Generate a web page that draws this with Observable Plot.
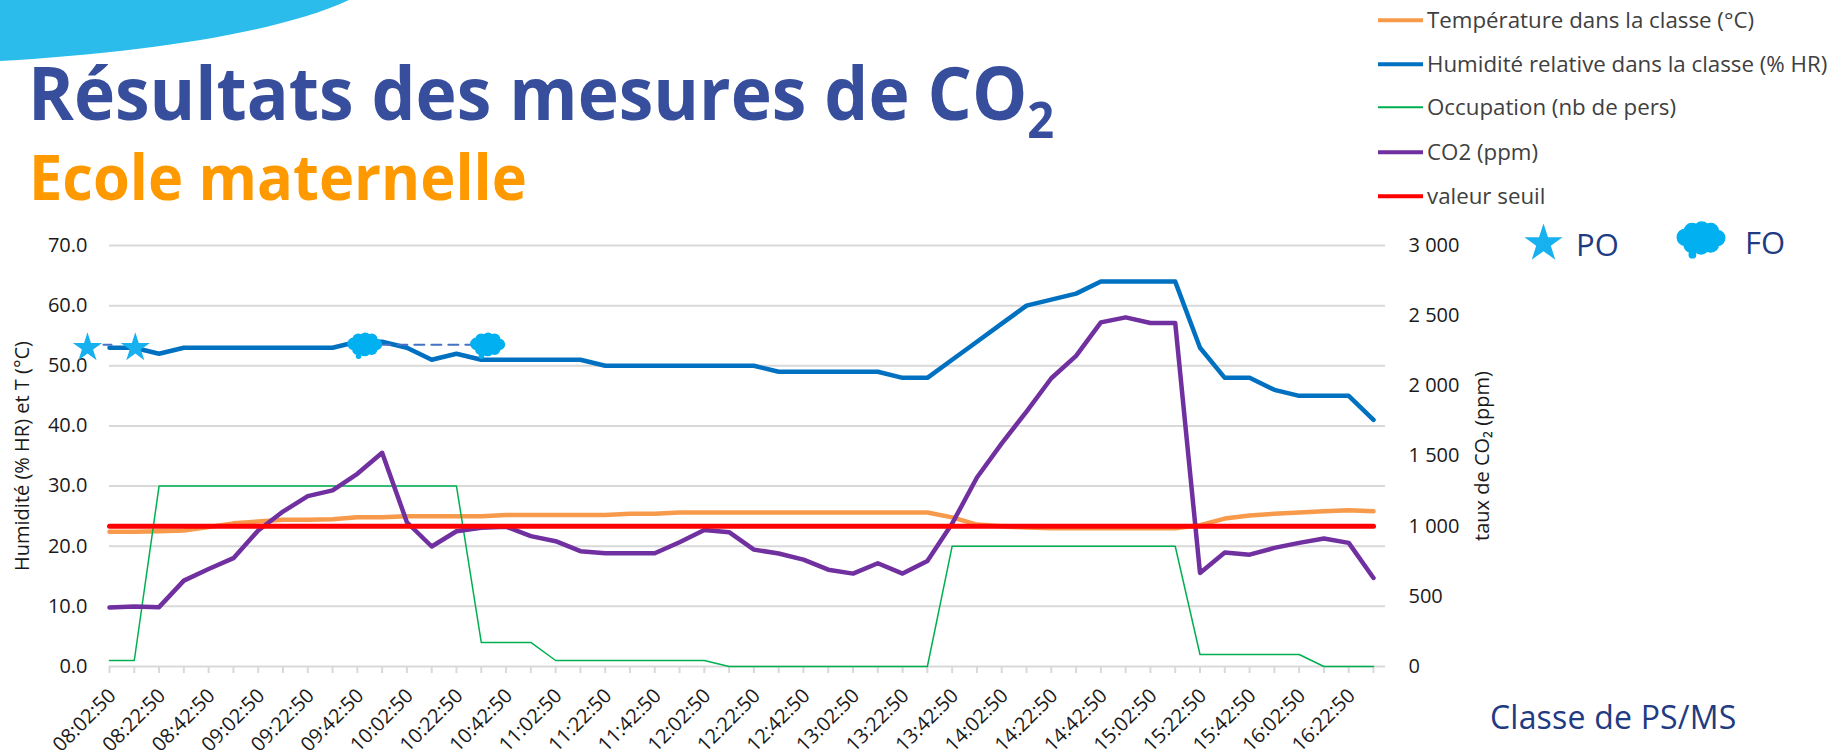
<!DOCTYPE html>
<html lang="fr">
<head>
<meta charset="utf-8">
<script src="https://cdn.jsdelivr.net/npm/d3@7"></script>
<script src="https://cdn.jsdelivr.net/npm/@observablehq/plot@0.6"></script>
<style>
html,body{margin:0;padding:0;background:#fff;overflow:hidden}
#page{position:relative;width:1833px;height:756px;overflow:hidden;font-family:"Open Sans",sans-serif}
#page svg.plot{position:absolute;left:0;top:0;background:transparent}
.abs{position:absolute;white-space:nowrap;line-height:1}
#title{left:28px;top:55px;font-size:74px;font-weight:700;color:#374E9C;transform:scaleX(.94);transform-origin:left top}
#title sub{font-size:50px;vertical-align:baseline;position:relative;top:18px;line-height:0}
#subtitle{left:29px;top:144px;font-size:63px;font-weight:700;color:#FF9900;transform:scaleX(.945);transform-origin:left top}
.leg{left:1427px;font-size:22.3px;color:#404040;transform:translateY(-50%)}
.key{position:absolute;left:1378px;width:45px;transform:translateY(-50%)}
.note{color:#1F3B82}
g[aria-label="symbols"]{filter:drop-shadow(1px 3px 2px rgba(70,80,100,.55))}
</style>
</head>
<body>
<div id="page">
  <svg style="position:absolute;left:0;top:0" width="360" height="70"><path d="M0 0H349C280 32 150 52 0 61Z" fill="#2BBCEB"/></svg>
  <div id="title" class="abs">Résultats des mesures de CO<sub>2</sub></div>
  <div id="subtitle" class="abs">Ecole maternelle</div>
  <div id="legend"></div>
  <div class="abs note" style="left:1576px;top:229px;font-size:31px">PO</div>
  <div class="abs note" style="left:1745px;top:227px;font-size:31px">FO</div>
  <div class="abs note" style="left:1490px;top:701px;font-size:32px;letter-spacing:.2px">Classe de PS/MS</div>
</div>
<script>
const times = ["08:02:50","08:12:50","08:22:50","08:32:50","08:42:50","08:52:50","09:02:50","09:12:50","09:22:50","09:32:50","09:42:50","09:52:50","10:02:50","10:12:50","10:22:50","10:32:50","10:42:50","10:52:50","11:02:50","11:12:50","11:22:50","11:32:50","11:42:50","11:52:50","12:02:50","12:12:50","12:22:50","12:32:50","12:42:50","12:52:50","13:02:50","13:12:50","13:22:50","13:32:50","13:42:50","13:52:50","14:02:50","14:12:50","14:22:50","14:32:50","14:42:50","14:52:50","15:02:50","15:12:50","15:22:50","15:32:50","15:42:50","15:52:50","16:02:50","16:12:50","16:22:50","16:32:50"];
const humidity = [53,53,52,53,53,53,53,53,53,53,54,54,53,51,52,51,51,51,51,51,50,50,50,50,50,50,50,49,49,49,49,49,48,48,51,54,57,60,61,62,64,64,64,64,53,48,48,46,45,45,45,41];
const temperature = [22.4,22.4,22.5,22.6,23.2,23.8,24.1,24.4,24.4,24.5,24.8,24.8,25,25,25,25,25.2,25.2,25.2,25.2,25.2,25.4,25.4,25.6,25.6,25.6,25.6,25.6,25.6,25.6,25.6,25.6,25.6,25.6,24.8,23.6,23.3,23.1,23,23,23,23,23,23,23.5,24.6,25.1,25.4,25.6,25.8,26,25.8];
const occupation = [1,1,30,30,30,30,30,30,30,30,30,30,30,30,30,4,4,4,1,1,1,1,1,1,1,0,0,0,0,0,0,0,0,0,20,20,20,20,20,20,20,20,20,20,2,2,2,2,2,0,0,0];
const co2 = [420,428,423,612,695,772,969,1104,1214,1255,1373,1523,1028,855,964,988,996,929,893,822,807,807,807,885,972,957,833,805,762,690,662,736,662,752,1019,1347,1590,1817,2054,2214,2452,2488,2448,2448,667,812,797,845,881,912,881,631];
const threshold = [1000];
const leftTicks = [0,10,20,30,40,50,60,70];
const ppmTicks = [0,500,1000,1500,2000,2500,3000];
const ppmToLeft = p => p * 70 / 3000;
const fmtPpm = p => d3.format(",")(p).replace(",", " ");

const series = [
  {label:"Température dans la classe (°C)", color:"#F79A4B", width:4.5, values:temperature},
  {label:"Humidité relative dans la classe (% HR)", color:"#0070C0", width:4.5, values:humidity},
  {label:"Occupation (nb de pers)", color:"#00B050", width:1.5, values:occupation},
  {label:"CO2 (ppm)", color:"#7030A0", width:4.5, values:co2.map(ppmToLeft)},
  {label:"valeur seuil", color:"#FF0000", width:5, values:times.map(() => ppmToLeft(threshold[0]))}
];
const legendY = [20,64,107,152,196];

const cloud = {draw(ctx, size){
  const r = Math.sqrt(size / Math.PI);
  const blobs = [[-.62,-.05,.36],[-.35,-.3,.34],[.05,-.36,.34],[.42,-.3,.34],[.68,-.02,.34],[.42,.24,.34],[.02,.3,.36],[-.36,.26,.34],[0,0,.55],[-.33,.66,.16]];
  for (const [x,y,s] of blobs) {
    ctx.moveTo(r*x + r*s, r*y);
    ctx.arc(r*x, r*y, r*s, 0, 2*Math.PI);
  }
  ctx.closePath();
}};

const lineMark = s => Plot.lineY(s.values.map((v,i) => ({t:times[i], v})), {x:"t", y:"v", stroke:s.color, strokeWidth:s.width, curve:"linear", strokeLinejoin:"round", strokeLinecap:"round"});

const plot = Plot.plot({
  width:1833, height:756,
  marginLeft:109, marginRight:460, marginTop:245, marginBottom:90,
  style:{background:"transparent", fontFamily:"'Open Sans',sans-serif", overflow:"visible"},
  x:{type:"point", domain:times, padding:0, label:null},
  y:{domain:[0,70], label:null},
  marks:[
    Plot.ruleY(leftTicks, {stroke:"#D9D9D9", strokeWidth:2, insetRight:-12}),
    Plot.axisX({ticks:times, tickSize:7, stroke:"#D9D9D9", strokeWidth:2, tickFormat:() => "", label:null}),
    Plot.axisX({ticks:times.filter((d,i) => i%2===0), tickSize:0, tickRotate:-45, textAnchor:"end", fontSize:20, fill:"#1a1a1a", dx:3, dy:14, label:null}),
    Plot.axisY({ticks:leftTicks, tickSize:0, tickPadding:22, tickFormat:d3.format(".1f"), fontSize:20, fill:"#1a1a1a", label:null}),
    Plot.axisY({anchor:"right", ticks:ppmTicks.map(ppmToLeft), tickSize:0, tickPadding:35, tickFormat:v => fmtPpm(Math.round(v*3000/70)), textAnchor:"start", fontSize:20, fill:"#1a1a1a", label:null}),
    Plot.text(["Humidité (% HR) et T (°C)"], {frameAnchor:"left", textAnchor:"middle", dx:-87, rotate:-90, fontSize:20, fill:"#1a1a1a"}),
    Plot.text(["taux de CO₂ (ppm)"], {frameAnchor:"right", textAnchor:"middle", dx:109, rotate:-90, fontSize:20, fill:"#1a1a1a"}),
    lineMark(series[1]),
    lineMark(series[0]),
    lineMark(series[2]),
    lineMark(series[3]),
    lineMark(series[4]),
    Plot.line([{t:times[0],v:53.5},{t:times[1],v:53.5}], {x:"t", y:"v", stroke:"#4472C4", strokeWidth:2, strokeDasharray:"8 6", dx:-20}),
    Plot.line([{t:times[10],v:53.5},{t:times[15],v:53.5}], {x:"t", y:"v", stroke:"#4472C4", strokeWidth:2, strokeDasharray:"10 7", dx:6}),
    Plot.dot([{t:times[0],v:53}], {x:"t", y:"v", symbol:"star", r:9.2, fill:"#16B1EE", dx:-22, ariaLabel:"symbols"}),
    Plot.dot([{t:times[1],v:53}], {x:"t", y:"v", symbol:"star", r:9.2, fill:"#16B1EE", dx:1, ariaLabel:"symbols"}),
    Plot.dot([{t:times[10],v:53.5}], {x:"t", y:"v", symbol:cloud, r:17.5, fill:"#00B0F0", stroke:"none", dx:7, ariaLabel:"symbols"}),
    Plot.dot([{t:times[15],v:53.5}], {x:"t", y:"v", symbol:cloud, r:17.5, fill:"#00B0F0", stroke:"none", dx:6, ariaLabel:"symbols"}),
    Plot.dot([1], {frameAnchor:"top-left", dx:1434, dy:-2, symbol:"star", r:12, fill:"#16B1EE", ariaLabel:"symbols"}),
    Plot.dot([1], {frameAnchor:"top-left", dx:1591, dy:-7, symbol:cloud, r:24.5, fill:"#00B0F0", stroke:"none", ariaLabel:"symbols"})
  ]
});
const page = document.getElementById("page");
page.appendChild(plot);
const legend = document.getElementById("legend");
series.forEach((s,i) => {
  const k = document.createElement("div");
  k.className = "key";
  k.style.top = legendY[i] + "px";
  k.style.height = (s.width === 1.5 ? 1.5 : 3.5) + "px";
  k.style.background = s.color;
  legend.appendChild(k);
  const t = document.createElement("div");
  t.className = "abs leg";
  t.style.top = legendY[i] + "px";
  t.textContent = s.label;
  legend.appendChild(t);
});
</script>
</body>
</html>
